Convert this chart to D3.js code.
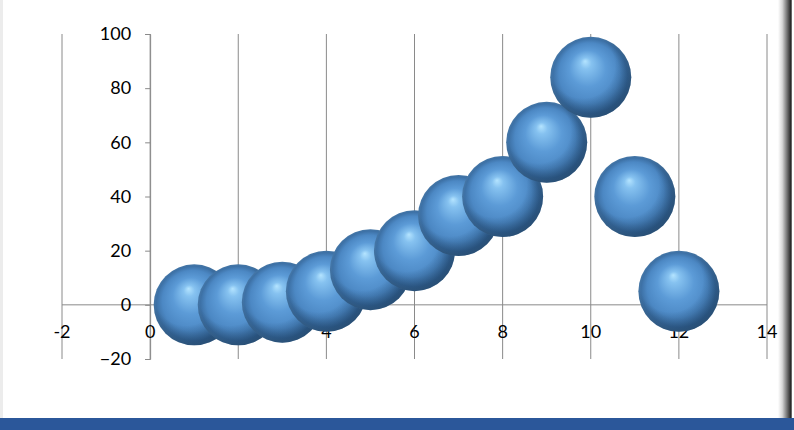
<!DOCTYPE html>
<html>
<head>
<meta charset="utf-8">
<script src="https://cdn.jsdelivr.net/npm/d3@7"></script>
<style>
  body { margin: 0; background: #fff; }
  svg { display: block; }
  text { font-family: Lato, "Open Sans", sans-serif; fill: #000; }
</style>
</head>
<body>
<div id="chart"></div>
<script>
// bubble data
const xValues = [1, 2, 3, 4, 5, 6, 7, 8, 9, 10, 11, 12];
const yValues = [0, 0, 1, 5, 13, 20, 33, 40, 60, 84, 40, 5];
const sizes = [10, 10, 10, 10, 10, 10, 10, 10, 10, 10, 10, 10];
const xTicks = [-2, 0, 2, 4, 6, 8, 10, 12, 14];
const yTicks = [-20, 0, 20, 40, 60, 80, 100];

const W = 794, H = 430;
const svg = d3.select('#chart').append('svg')
    .attr('width', W)
    .attr('height', H);

const x = d3.scaleLinear().domain([-2, 14]).range([62, 767]);
const y = d3.scaleLinear().domain([-20, 100]).range([359, 34]);
const r = d3.scaleSqrt().domain([0, 10]).range([0, 40.5]);

// sphere look
const defs = svg.append('defs');
const grad = defs.append('radialGradient')
    .attr('id', 'ball')
    .attr('cx', '0.5').attr('cy', '0.5').attr('r', '0.5')
    .attr('fx', '0.43').attr('fy', '0.3');
[[0, '#b4e4ff'], [0.14, '#86c2f0'], [0.45, '#5c9bd7'], [0.75, '#4c88c4'],
 [0.92, '#3d71a6'], [1, '#4677a6']].forEach(s => {
    grad.append('stop').attr('offset', s[0]).attr('stop-color', s[1]);
});
const shade = defs.append('radialGradient')
    .attr('id', 'shade')
    .attr('cx', '0.4').attr('cy', '0.36').attr('r', '0.72');
shade.append('stop').attr('offset', 0.55).attr('stop-color', '#0a2440').attr('stop-opacity', 0);
shade.append('stop').attr('offset', 0.85).attr('stop-color', '#0a2440').attr('stop-opacity', 0.4);
shade.append('stop').attr('offset', 1).attr('stop-color', '#0a2440').attr('stop-opacity', 0.55);

const edge = defs.append('linearGradient')
    .attr('id', 'edge').attr('x1', 0).attr('x2', 1).attr('y1', 0).attr('y2', 0);
[[0, '#ffffff'], [0.3, '#d8d8d8'], [0.75, '#555'], [0.9, '#2a2a2a'], [1, '#888']].forEach(s => {
    edge.append('stop').attr('offset', s[0]).attr('stop-color', s[1]);
});

// frame bits
svg.append('rect').attr('x', 0).attr('y', 0).attr('width', 3).attr('height', 418).attr('fill', '#ececec');
svg.append('rect').attr('x', 778).attr('y', 0).attr('width', 14).attr('height', 418).attr('fill', 'url(#edge)');
svg.append('rect').attr('x', 0).attr('y', 418).attr('width', W).attr('height', 12).attr('fill', '#2b579a');

// vertical gridlines
svg.append('g').selectAll('line')
    .data(xTicks)
    .enter()
    .append('line')
    .attr('x1', d => x(d)).attr('x2', d => x(d))
    .attr('y1', y(100)).attr('y2', y(-20))
    .attr('stroke', '#8a8a8a').attr('stroke-width', 1);

// x axis line at y = 0
svg.append('line')
    .attr('x1', x(-2)).attr('x2', x(14))
    .attr('y1', y(0)).attr('y2', y(0))
    .attr('stroke', '#8a8a8a');

// y axis at x = 0
const yAxis = d3.axisLeft(y).tickValues(yTicks).tickSize(5).tickPadding(14).tickFormat(d3.format('d'));
const gy = svg.append('g')
    .attr('transform', `translate(${x(0)},0)`)
    .call(yAxis);
gy.select('.domain').attr('stroke', '#8a8a8a');
gy.selectAll('.tick line').attr('stroke', '#8a8a8a');
gy.selectAll('text').attr('font-size', 18).attr('font-family', 'Lato, sans-serif').attr('fill', '#000');

// x labels
svg.append('g').selectAll('text')
    .data(xTicks)
    .enter()
    .append('text')
    .attr('x', d => x(d))
    .attr('y', y(0) + 27)
    .attr('dy', '0.35em')
    .attr('text-anchor', 'middle')
    .attr('font-size', 18)
    .text(d => d);

// bubbles
const pts = xValues.map((v, i) => ({ x: v, y: yValues[i], s: sizes[i] }));
const balls = svg.append('g').selectAll('g')
    .data(pts)
    .enter()
    .append('g');
balls.append('circle')
    .attr('cx', d => x(d.x))
    .attr('cy', d => y(d.y))
    .attr('r', d => r(d.s))
    .attr('fill', 'url(#ball)');
balls.append('circle')
    .attr('cx', d => x(d.x))
    .attr('cy', d => y(d.y))
    .attr('r', d => r(d.s))
    .attr('fill', 'url(#shade)');
</script>
</body>
</html>
